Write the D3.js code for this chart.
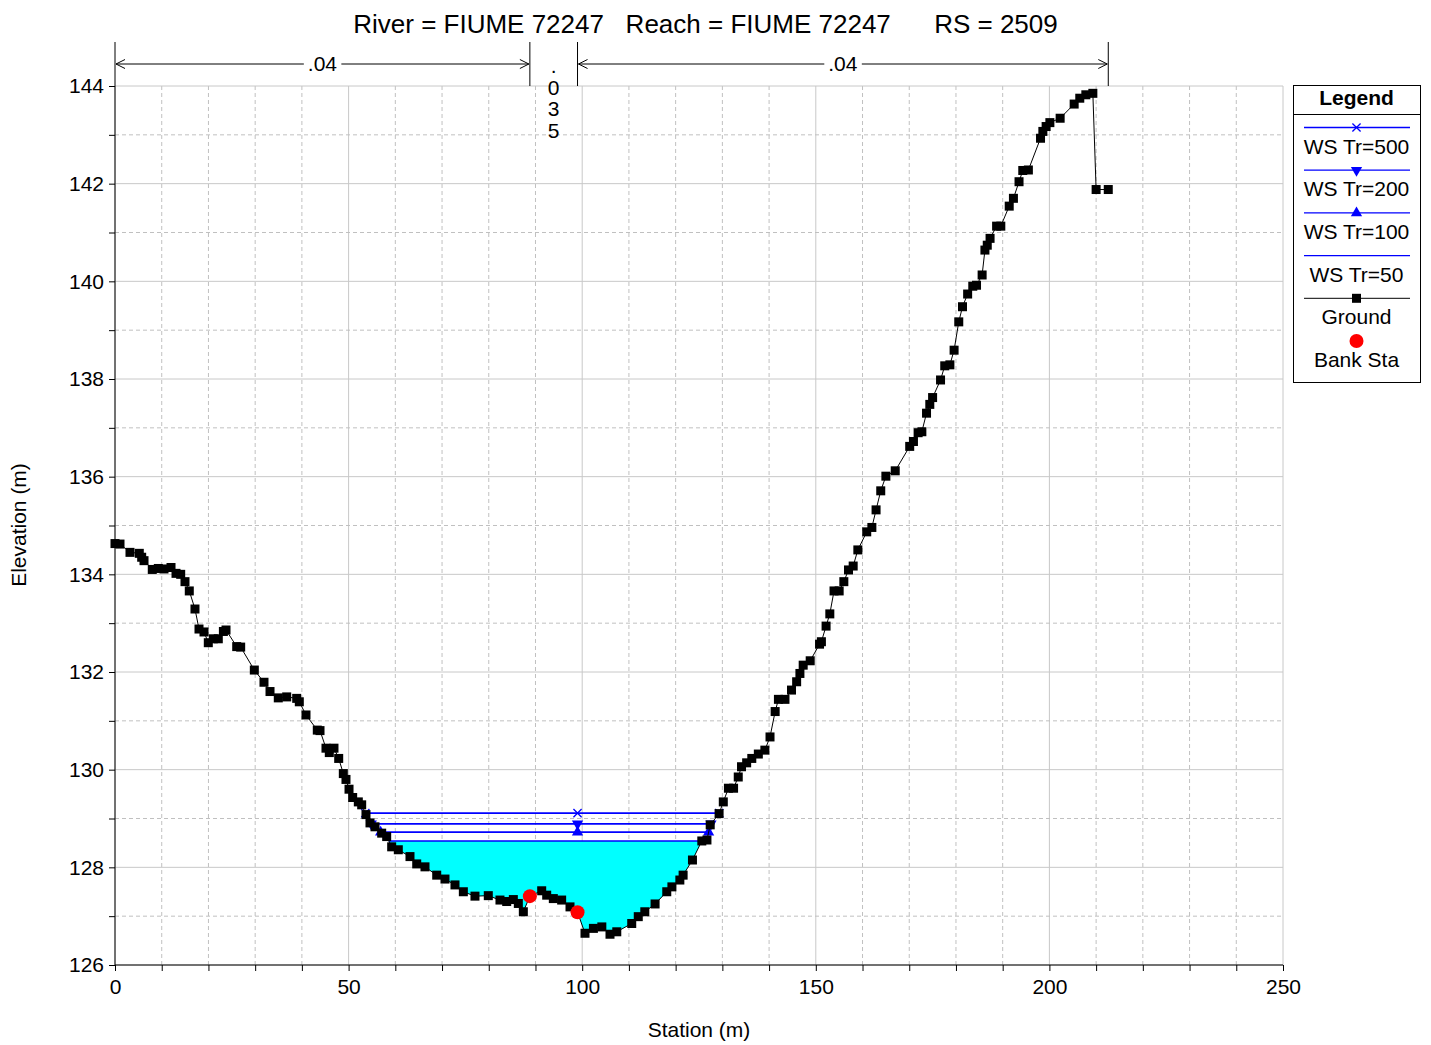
<!DOCTYPE html>
<html><head><meta charset="utf-8">
<script src="https://cdn.jsdelivr.net/npm/d3@7"></script>
<style>body{margin:0;background:#fff}svg{display:block}text{font-family:"Liberation Sans",Arial,sans-serif}</style>
</head><body>
<svg id="chart" width="1431" height="1045"></svg>
<script>
const groundSta = [0,1.07,3.21,5.2,5.71,6.21,7.98,9.27,10.49,11.99,13.06,14.06,14.98,15.9,17.12,17.98,19.05,19.97,21.04,22.11,23.2,23.76,26.05,26.9,29.82,31.89,33.18,34.95,36.75,38.89,39.45,40.88,43.3,43.88,45.16,45.87,46.87,47.88,48.87,49.44,50.09,50.87,52.08,52.8,53.72,54.58,55.65,57.08,58.15,59.22,60.64,63.14,64.58,66.35,68.86,70.63,72.77,74.56,77.05,79.9,82.4,83.84,85.26,86.33,87.4,88.8,91.33,92.4,93.82,95.6,97.39,99.0,100.6,102.4,104.2,105.95,107.4,110.6,112.0,113.4,115.6,118.1,119.2,120.9,121.6,123.6,125.6,126.7,127.4,129.3,130.2,131.3,132.4,133.4,134.1,135.2,136.3,137.7,139.1,140.2,141.3,142.0,143.4,144.8,145.9,146.6,147.3,148.8,150.8,151.2,152.2,153.0,153.9,155.0,156.0,157.0,158.0,159.0,160.9,162.0,162.9,163.9,165.0,167.0,170.1,170.9,171.9,172.7,173.7,174.4,175.0,176.7,177.6,178.7,179.6,180.6,181.4,182.5,183.6,184.4,185.6,186.2,186.7,187.3,188.7,189.6,191.4,192.3,193.5,194.3,195.5,198.1,198.6,199.3,200.1,202.3,205.3,206.5,207.8,209.3,210.0,212.6];
const groundElev = [134.63,134.62,134.45,134.43,134.35,134.28,134.10,134.12,134.11,134.14,134.02,134.00,133.85,133.66,133.29,132.88,132.82,132.60,132.68,132.68,132.83,132.86,132.52,132.51,132.04,131.79,131.60,131.47,131.49,131.46,131.39,131.12,130.81,130.80,130.44,130.35,130.44,130.23,129.92,129.80,129.60,129.43,129.34,129.28,129.08,128.91,128.83,128.70,128.63,128.42,128.36,128.22,128.07,128.01,127.84,127.76,127.64,127.50,127.41,127.42,127.33,127.30,127.34,127.26,127.09,127.41,127.52,127.43,127.36,127.33,127.19,127.08,126.65,126.75,126.78,126.63,126.68,126.85,126.99,127.09,127.25,127.50,127.60,127.74,127.84,128.15,128.54,128.56,128.87,129.10,129.34,129.62,129.62,129.85,130.06,130.14,130.23,130.32,130.40,130.67,131.19,131.44,131.44,131.63,131.80,131.97,132.14,132.23,132.57,132.62,132.94,133.19,133.66,133.66,133.85,134.09,134.17,134.50,134.87,134.96,135.32,135.71,136.01,136.12,136.62,136.72,136.90,136.92,137.30,137.48,137.62,137.98,138.27,138.29,138.59,139.17,139.48,139.74,139.90,139.92,140.13,140.64,140.74,140.88,141.13,141.13,141.54,141.70,142.04,142.27,142.28,142.93,143.07,143.17,143.25,143.34,143.63,143.75,143.82,143.85,141.88,141.88];
const bankSta = [88.8, 99.0];
const wsNames = ["WS Tr=500","WS Tr=200","WS Tr=100","WS Tr=50"];
const wsElev = [129.11, 128.89, 128.72, 128.54];
const wsMarker = ["x","down","up","none"];
const nSta = [0, 88.8, 99.0, 212.6];
const nVal = [".04", ".035", ".04"];
const xTicks = [0,50,100,150,200,250];
const yTicks = [126,128,130,132,134,136,138,140,142,144];
const title = "River = FIUME 72247   Reach = FIUME 72247      RS = 2509";

const svg = d3.select("#chart");
const x = d3.scaleLinear().domain([0,250]).range([115,1283]);
const y = d3.scaleLinear().domain([126,144]).range([965,86]);
const ground = groundSta.map((s,i)=>({s, e:groundElev[i]}));

// grid
const g = svg.append("g");
d3.range(0,251,10).forEach(v=>{
  const major = v%50===0;
  g.append("line").attr("x1",x(v)).attr("x2",x(v)).attr("y1",y(126)).attr("y2",y(144))
   .attr("stroke",major?"#c8c8c8":"#c0c0c0").attr("stroke-width",1).attr("stroke-dasharray",major?null:"4,3");
});
d3.range(126,144.01,1).forEach(v=>{
  const major = v%2===0;
  g.append("line").attr("x1",x(0)).attr("x2",x(250)).attr("y1",y(v)).attr("y2",y(v))
   .attr("stroke",major?"#c8c8c8":"#c0c0c0").attr("stroke-width",1).attr("stroke-dasharray",major?null:"4,3");
});

// axes
const ax = svg.append("g").attr("transform",`translate(0,${y(126)})`)
  .call(d3.axisBottom(x).tickValues(d3.range(0,251,10)).tickSize(6).tickFormat(d=>xTicks.includes(d)?d:""));
const ay = svg.append("g").attr("transform",`translate(${x(0)},0)`)
  .call(d3.axisLeft(y).tickValues(d3.range(126,144.01,1)).tickSize(6).tickFormat(d=>yTicks.includes(d)?d:""));
[ax,ay].forEach(a=>{a.select(".domain").attr("stroke","#000");a.selectAll(".tick line").attr("stroke","#000");
  a.selectAll("text").attr("font-size",21).attr("font-family","Liberation Sans, Arial").attr("fill","#000");});
ax.selectAll("text").attr("dy","0.95em");
ay.selectAll("text").attr("dx","-2");
ax.select(".domain").attr("d",`M${x(0)},0H${x(250)}`);
ay.select(".domain").attr("d",`M0,${y(126)}V${y(144)}`);

// intersections of WS with ground
function crossings(level){
  let minI = d3.minIndex(ground,d=>d.e);
  let L=null,R=null;
  for(let i=minI;i>0;i--){ if(ground[i-1].e>=level && ground[i].e<level){const a=ground[i-1],b=ground[i];L=a.s+(level-a.e)/(b.e-a.e)*(b.s-a.s);break;} }
  for(let i=minI;i<ground.length-1;i++){ if(ground[i].e<level && ground[i+1].e>=level){const a=ground[i],b=ground[i+1];R=a.s+(level-a.e)/(b.e-a.e)*(b.s-a.s);break;} }
  return [L,R];
}

// fill for lowest WS (Tr=50)
const lvl = wsElev[3];
const [L50,R50] = crossings(lvl);
const poly = [{s:L50,e:lvl}, ...ground.filter(d=>d.s>L50 && d.s<R50), {s:R50,e:lvl}];
svg.append("path").attr("d", d3.line().x(d=>x(d.s)).y(d=>y(d.e))(poly)+"Z").attr("fill","#00ffff").attr("stroke","none");

// WS lines
const sym = {
  x: d3.symbol().type(d3.symbolX).size(45),
  down: d3.symbol().type(d3.symbolTriangle).size(55),
  up: d3.symbol().type(d3.symbolTriangle).size(55)
};
function marker(gp,type,cx,cy){
  if(type==="none") return;
  const p = gp.append("path").attr("d",sym[type]()).attr("transform",`translate(${cx},${cy})${type==="down"?" rotate(180)":""}`);
  if(type==="x") p.attr("fill","none").attr("stroke","#0000ff").attr("stroke-width",1.3);
  else p.attr("fill","#0000ff");
}
wsElev.forEach((lv,i)=>{
  const [Ls,Rs] = crossings(lv);
  svg.append("line").attr("x1",x(Ls)).attr("x2",x(Rs)).attr("y1",y(lv)).attr("y2",y(lv)).attr("stroke","#0000ff").attr("stroke-width",1.6);
  [Ls,bankSta[1],Rs].forEach(s=>marker(svg,wsMarker[i],x(s),y(lv)));
});

// ground
svg.append("path").attr("d",d3.line().x(d=>x(d.s)).y(d=>y(d.e))(ground)).attr("fill","none").attr("stroke","#000").attr("stroke-width",1);
svg.selectAll("rect.gp").data(ground).join("rect").attr("class","gp")
  .attr("x",d=>x(d.s)-4.5).attr("y",d=>y(d.e)-4.5).attr("width",9).attr("height",9).attr("fill","#000");

// bank stations
function groundAt(s){
  const i = d3.bisector(d=>d.s).left(ground,s);
  const a=ground[Math.max(0,i-1)], b=ground[Math.min(ground.length-1,i)];
  if(b.s===s) return b.e;
  if(a.s===b.s) return a.e;
  return a.e+(s-a.s)/(b.s-a.s)*(b.e-a.e);
}
bankSta.forEach(s=>{
  svg.append("circle").attr("cx",x(s)).attr("cy",y(groundAt(s))).attr("r",7).attr("fill","#ff0000");
});

// manning n
const ny=64;
nSta.forEach(s=>svg.append("line").attr("x1",x(s)).attr("x2",x(s)).attr("y1",42).attr("y2",y(144)).attr("stroke","#000").attr("stroke-width",1));
function arrowHead(xp,dir){
  svg.append("path").attr("d",`M${xp+dir*9},${ny-4.5}L${xp},${ny}L${xp+dir*9},${ny+4.5}`).attr("fill","none").attr("stroke","#000").attr("stroke-width",1);
}
for(let i=0;i<nVal.length;i++){
  const a=x(nSta[i]), b=x(nSta[i+1]), w=b-a, mid=(a+b)/2;
  if(w>120){
    svg.append("line").attr("x1",a+1).attr("x2",b-1).attr("y1",ny).attr("y2",ny).attr("stroke","#000");
    arrowHead(a+1,1); arrowHead(b-1,-1);
    const t = svg.append("text").attr("x",mid).attr("y",ny+7).attr("text-anchor","middle").attr("font-size",21).text(nVal[i]);
    const bb = t.node().getBBox();
    svg.insert("rect",()=>t.node()).attr("x",bb.x-4).attr("y",ny-3).attr("width",bb.width+8).attr("height",6).attr("fill","#fff");
  } else {
    nVal[i].split("").forEach((c,k)=>{
      svg.append("text").attr("x",mid).attr("y",ny+9+k*21.5).attr("text-anchor","middle").attr("font-size",21).text(c);
    });
  }
}

// title
svg.append("text").attr("x",705.5).attr("y",33).attr("text-anchor","middle").attr("font-size",26)
  .style("white-space","pre").text(title);

// axis titles
svg.append("text").attr("x",699).attr("y",1037).attr("text-anchor","middle").attr("font-size",21).text("Station (m)");
svg.append("text").attr("transform","translate(26,525) rotate(-90)").attr("text-anchor","middle").attr("font-size",21).text("Elevation (m)");

// legend
const lg = svg.append("g");
const lx0=1293, lx1=1420, lcx=(lx0+lx1)/2;
lg.append("rect").attr("x",lx0+0.5).attr("y",85.5).attr("width",lx1-lx0).attr("height",297).attr("fill","#fff").attr("stroke","#000");
lg.append("line").attr("x1",lx0).attr("x2",lx1).attr("y1",114.5).attr("y2",114.5).attr("stroke","#000");
lg.append("text").attr("x",lcx).attr("y",105).attr("text-anchor","middle").attr("font-size",21).attr("font-weight","bold").text("Legend");
wsNames.forEach((n,i)=>{
  const ly = 127.5 + i*42.7;
  lg.append("line").attr("x1",1304).attr("x2",1410).attr("y1",ly).attr("y2",ly).attr("stroke","#0000ff").attr("stroke-width",1.3);
  marker(lg,wsMarker[i],lcx,ly);
  lg.append("text").attr("x",lcx).attr("y",ly+26).attr("text-anchor","middle").attr("font-size",21).text(n);
});
const gly = 127.5 + 4*42.7;
lg.append("line").attr("x1",1304).attr("x2",1410).attr("y1",gly).attr("y2",gly).attr("stroke","#000");
lg.append("rect").attr("x",lcx-4.5).attr("y",gly-4.5).attr("width",9).attr("height",9).attr("fill","#000");
lg.append("text").attr("x",lcx).attr("y",gly+26).attr("text-anchor","middle").attr("font-size",21).text("Ground");
lg.append("circle").attr("cx",lcx).attr("cy",341).attr("r",7).attr("fill","#ff0000");
lg.append("text").attr("x",lcx).attr("y",367).attr("text-anchor","middle").attr("font-size",21).text("Bank Sta");
</script>
</body></html>
